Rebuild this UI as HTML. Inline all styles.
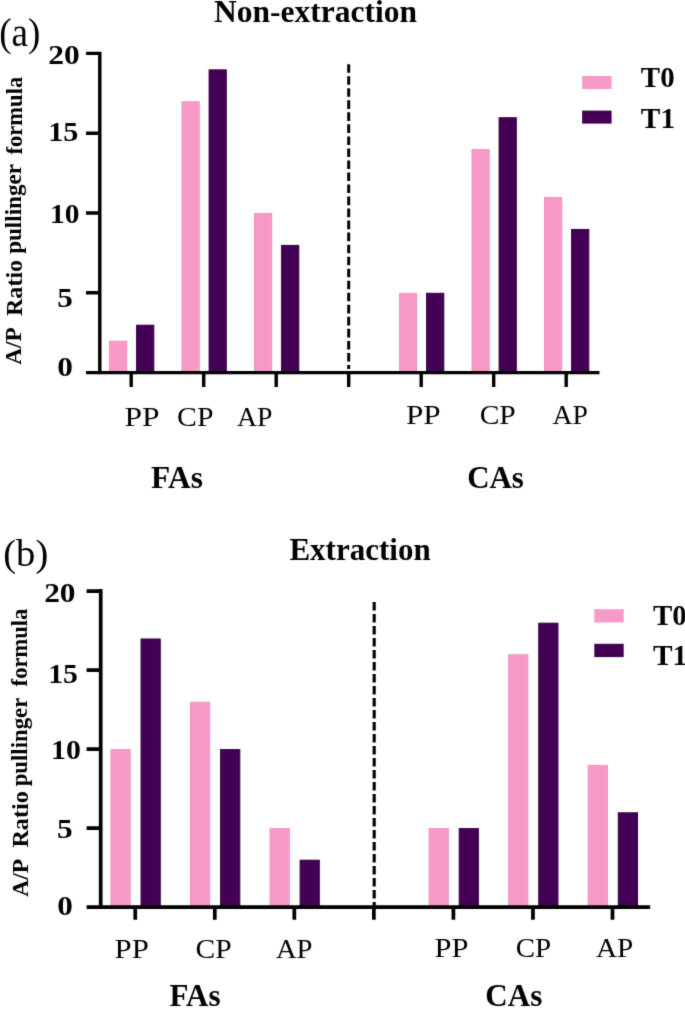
<!DOCTYPE html>
<html><head><meta charset="utf-8">
<style>
html,body{margin:0;padding:0;background:#fff;width:685px;height:1009px;overflow:hidden}
svg{display:block}
text{font-family:"Liberation Serif",serif;fill:#000}
</style></head><body>
<svg width="685" height="1009" viewBox="0 0 685 1009">
<defs><filter id="bl" x="-5%" y="-5%" width="110%" height="110%" color-interpolation-filters="sRGB"><feConvolveMatrix order="3" kernelMatrix="0.01440 0.09120 0.01440 0.09120 0.57760 0.09120 0.01440 0.09120 0.01440" edgeMode="duplicate" preserveAlpha="false"/></filter></defs>
<rect width="685" height="1009" fill="#fff"/>
<g filter="url(#bl)">
<rect width="685" height="1009" fill="#fff"/>
<rect x="109.50" y="341.18" width="17.20" height="31.92" fill="#F89AC8" stroke="#EE93C2" stroke-width="1"/>
<rect x="136.60" y="325.22" width="17.20" height="47.88" fill="#430055" stroke="#34003F" stroke-width="1"/>
<rect x="182.00" y="101.78" width="17.20" height="271.32" fill="#F89AC8" stroke="#EE93C2" stroke-width="1"/>
<rect x="209.10" y="69.86" width="17.20" height="303.24" fill="#430055" stroke="#34003F" stroke-width="1"/>
<rect x="254.50" y="213.50" width="17.20" height="159.60" fill="#F89AC8" stroke="#EE93C2" stroke-width="1"/>
<rect x="281.60" y="245.42" width="17.20" height="127.68" fill="#430055" stroke="#34003F" stroke-width="1"/>
<rect x="399.50" y="293.30" width="17.20" height="79.80" fill="#F89AC8" stroke="#EE93C2" stroke-width="1"/>
<rect x="426.60" y="293.30" width="17.20" height="79.80" fill="#430055" stroke="#34003F" stroke-width="1"/>
<rect x="472.00" y="149.66" width="17.20" height="223.44" fill="#F89AC8" stroke="#EE93C2" stroke-width="1"/>
<rect x="499.10" y="117.74" width="17.20" height="255.36" fill="#430055" stroke="#34003F" stroke-width="1"/>
<rect x="544.50" y="197.54" width="17.20" height="175.56" fill="#F89AC8" stroke="#EE93C2" stroke-width="1"/>
<rect x="571.60" y="229.46" width="17.20" height="143.64" fill="#430055" stroke="#34003F" stroke-width="1"/>
<path d="M99.80 51.80 V374.30 M86.00 292.80 H99.80 M86.00 213.00 H99.80 M86.00 133.20 H99.80 M86.00 53.40 H99.80 M86.00 372.60 H599.50 M131.20 372.60 V387.00 M203.70 372.60 V387.00 M276.20 372.60 V387.00 M348.70 372.60 V387.00 M421.20 372.60 V387.00 M493.70 372.60 V387.00 M566.20 372.60 V387.00 " stroke="#000" stroke-width="3.4" fill="none"/>
<path d="M348.70 64.20 V369.00" stroke="#000" stroke-width="3.0" stroke-dasharray="8.6 3.43" fill="none"/>
<rect x="582.1" y="76.0" width="29.5" height="13.0" fill="#F89AC8"/>
<rect x="582.1" y="110.6" width="29.5" height="13.0" fill="#430055"/>
<rect x="110.95" y="749.60" width="19.20" height="158.00" fill="#F89AC8" stroke="#EE93C2" stroke-width="1"/>
<rect x="141.05" y="639.00" width="19.20" height="268.60" fill="#430055" stroke="#34003F" stroke-width="1"/>
<rect x="190.49" y="702.20" width="19.20" height="205.40" fill="#F89AC8" stroke="#EE93C2" stroke-width="1"/>
<rect x="220.59" y="749.60" width="19.20" height="158.00" fill="#430055" stroke="#34003F" stroke-width="1"/>
<rect x="270.03" y="828.60" width="19.20" height="79.00" fill="#F89AC8" stroke="#EE93C2" stroke-width="1"/>
<rect x="300.13" y="860.20" width="19.20" height="47.40" fill="#430055" stroke="#34003F" stroke-width="1"/>
<rect x="429.11" y="828.60" width="19.20" height="79.00" fill="#F89AC8" stroke="#EE93C2" stroke-width="1"/>
<rect x="459.21" y="828.60" width="19.20" height="79.00" fill="#430055" stroke="#34003F" stroke-width="1"/>
<rect x="508.65" y="654.80" width="19.20" height="252.80" fill="#F89AC8" stroke="#EE93C2" stroke-width="1"/>
<rect x="538.75" y="623.20" width="19.20" height="284.40" fill="#430055" stroke="#34003F" stroke-width="1"/>
<rect x="588.19" y="765.40" width="19.20" height="142.20" fill="#F89AC8" stroke="#EE93C2" stroke-width="1"/>
<rect x="618.29" y="812.80" width="19.20" height="94.80" fill="#430055" stroke="#34003F" stroke-width="1"/>
<path d="M100.70 589.10 V908.95 M86.60 828.09 H100.70 M86.60 749.08 H100.70 M86.60 670.06 H100.70 M86.60 591.05 H100.70 M86.60 907.10 H650.20 M135.25 907.10 V919.80 M214.79 907.10 V919.80 M294.33 907.10 V919.80 M373.87 907.10 V919.80 M453.41 907.10 V919.80 M532.95 907.10 V919.80 M612.49 907.10 V919.80 " stroke="#000" stroke-width="3.7" fill="none"/>
<path d="M374.20 601.90 V906.00" stroke="#000" stroke-width="3.1" stroke-dasharray="8.7 3.3" fill="none"/>
<rect x="594.3" y="609.2" width="29.4" height="13.3" fill="#F89AC8"/>
<rect x="594.3" y="643.8" width="29.4" height="13.3" fill="#430055"/>
<text font-size="30.75" font-weight="bold" transform="translate(214.03,22.39) scale(1.0248,1)">Non-extraction</text>
<text font-size="39.76" transform="translate(-0.84,46.01) scale(0.9324,1)">(a)</text>
<text font-size="27.60" font-weight="bold" transform="translate(48.35,64.31) scale(1.1430,1)">20</text>
<text font-size="27.60" font-weight="bold" transform="translate(48.15,141.33) scale(1.0943,1)">15</text>
<text font-size="27.60" font-weight="bold" transform="translate(49.93,223.32) scale(1.0680,1)">10</text>
<text font-size="27.60" font-weight="bold" transform="translate(57.15,307.16) scale(1.1286,1)">5</text>
<text font-size="27.60" font-weight="bold" transform="translate(57.24,376.36) scale(1.1329,1)">0</text>
<text font-size="28.70" font-weight="bold" transform="translate(640.87,86.63) scale(1.0069,1)">T0</text>
<text font-size="28.70" font-weight="bold" transform="translate(640.84,127.95) scale(1.0209,1)">T1</text>
<text font-size="27.00" transform="translate(124.59,426.01) scale(1.1674,1)">PP</text>
<text font-size="27.00" transform="translate(177.09,426.01) scale(1.1021,1)">CP</text>
<text font-size="27.00" transform="translate(236.90,425.70) scale(1.0262,1)">AP</text>
<text font-size="27.00" transform="translate(405.89,424.36) scale(1.1549,1)">PP</text>
<text font-size="27.00" transform="translate(479.64,424.36) scale(1.0933,1)">CP</text>
<text font-size="27.00" transform="translate(552.45,424.36) scale(1.0250,1)">AP</text>
<text font-size="31.00" font-weight="bold" transform="translate(151.12,487.68) scale(1.0137,1)">FAs</text>
<text font-size="31.00" font-weight="bold" transform="translate(467.16,487.68) scale(0.9978,1)">CAs</text>
<text font-size="23.80" font-weight="bold" transform="translate(21.42,364.76) rotate(-90) scale(0.9769,1)">A/P</text>
<text font-size="23.80" font-weight="bold" transform="translate(21.51,316.02) rotate(-90) scale(1.0120,1)">Ratio</text>
<text font-size="23.80" font-weight="bold" transform="translate(20.91,253.85) rotate(-90) scale(0.9699,1)">pullinger</text>
<text font-size="23.80" font-weight="bold" transform="translate(21.57,154.38) rotate(-90) scale(0.9462,1)">formula</text>
<text font-size="31.21" font-weight="bold" transform="translate(289.39,560.33) scale(0.9942,1)">Extraction</text>
<text font-size="38.17" transform="translate(3.28,566.42) scale(1.0099,1)">(b)</text>
<text font-size="27.60" font-weight="bold" transform="translate(44.13,602.37) scale(1.1389,1)">20</text>
<text font-size="27.60" font-weight="bold" transform="translate(48.17,683.30) scale(1.0776,1)">15</text>
<text font-size="27.60" font-weight="bold" transform="translate(51.07,759.03) scale(1.0815,1)">10</text>
<text font-size="27.60" font-weight="bold" transform="translate(57.12,837.76) scale(1.1376,1)">5</text>
<text font-size="27.60" font-weight="bold" transform="translate(57.13,914.71) scale(1.1303,1)">0</text>
<text font-size="28.70" font-weight="bold" transform="translate(653.10,625.00) scale(1.0069,1)">T0</text>
<text font-size="28.70" font-weight="bold" transform="translate(653.02,665.38) scale(1.0209,1)">T1</text>
<text font-size="26.80" transform="translate(114.60,958.38) scale(1.1496,1)">PP</text>
<text font-size="26.80" transform="translate(195.56,958.39) scale(1.1021,1)">CP</text>
<text font-size="26.80" transform="translate(275.89,958.03) scale(1.0694,1)">AP</text>
<text font-size="26.80" transform="translate(434.52,957.32) scale(1.1394,1)">PP</text>
<text font-size="26.80" transform="translate(515.77,957.34) scale(1.0812,1)">CP</text>
<text font-size="26.80" transform="translate(595.92,957.32) scale(1.0892,1)">AP</text>
<text font-size="31.00" font-weight="bold" transform="translate(169.46,1005.69) scale(1.0007,1)">FAs</text>
<text font-size="31.00" font-weight="bold" transform="translate(485.29,1005.67) scale(1.0030,1)">CAs</text>
<text font-size="23.80" font-weight="bold" transform="translate(27.76,896.81) rotate(-90) scale(0.9873,1)">A/P</text>
<text font-size="23.80" font-weight="bold" transform="translate(27.81,847.62) rotate(-90) scale(1.0154,1)">Ratio</text>
<text font-size="23.80" font-weight="bold" transform="translate(27.11,786.37) rotate(-90) scale(0.9576,1)">pullinger</text>
<text font-size="23.80" font-weight="bold" transform="translate(27.06,686.38) rotate(-90) scale(0.9476,1)">formula</text>
</g>
</svg>
</body></html>
